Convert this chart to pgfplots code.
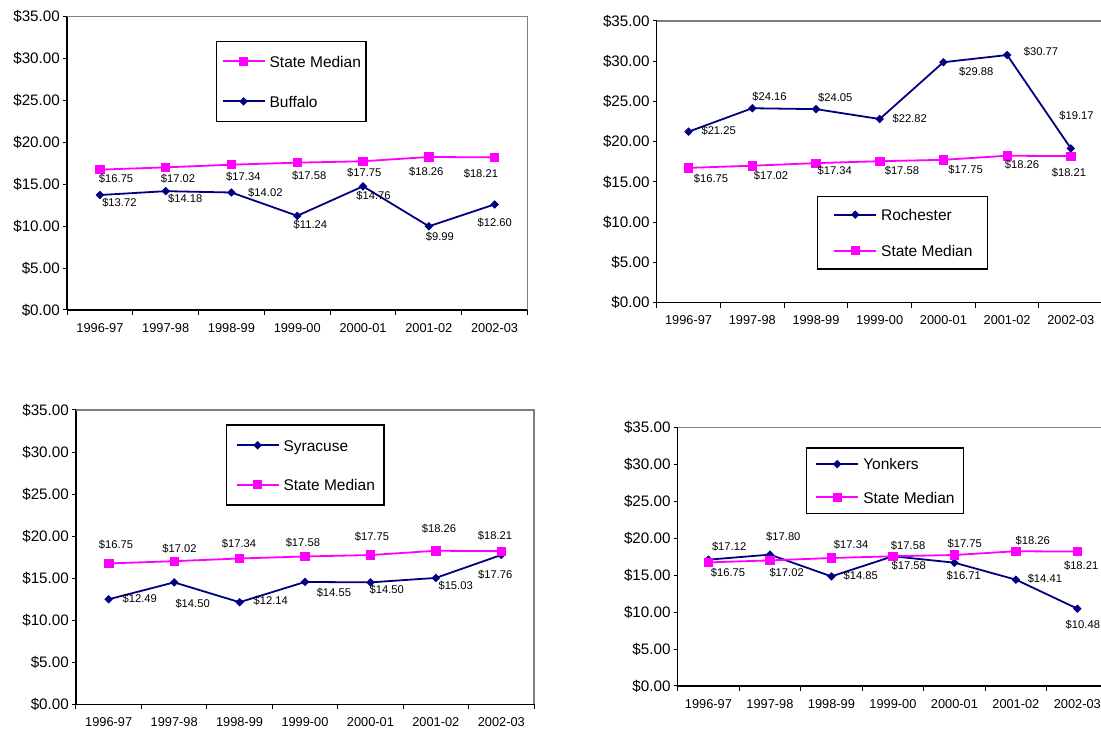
\documentclass[border=0pt]{standalone}
\usepackage{pgfplots}
\pgfplotsset{compat=1.18}
\usepackage{pgfplotstable}
\usepackage{fontspec}
\setmainfont{Liberation Sans}
\definecolor{navy}{RGB}{0,0,128}
\definecolor{mag}{RGB}{255,0,255}
\definecolor{framegray}{RGB}{128,128,128}
\newcommand\lblfont{\fontsize{11.2}{13}\selectfont}

% x y dx dy (label offsets in pt, y up)
\pgfplotstableread{
x y dx dy
0 16.75 16.2 -8.7
1 17.02 12.3 -10.9
2 17.34 11.9 -12.0
3 17.58 11.9 -13.0
4 17.75 1.2 -11.4
5 18.26 -2.6 -14.7
6 18.21 -13.7 -16.6
}\smA
\pgfplotstableread{
x y dx dy
0 13.72 19.5 -7.7
1 14.18 19.5 -7.8
2 14.02 33.9 -0.2
3 11.24 13.2 -9.2
4 14.76 10.5 -9.7
5 9.99 11.0 -10.7
6 12.60 0.1 -18.3
}\buf
\pgfplotstableread{
x y dx dy
0 21.25 30.1 1.0
1 24.16 17.2 11.6
2 24.05 19.3 11.5
3 22.82 30.1 0.3
4 29.88 32.9 -9.3
5 30.77 33.9 2.9
6 19.17 5.7 32.7
}\roc
\pgfplotstableread{
x y dx dy
0 16.75 22.5 -11.3
1 17.02 18.7 -10.1
2 17.34 18.7 -7.7
3 17.58 22.2 -9.6
4 17.75 22.2 -10.0
5 18.26 14.9 -9.1
6 18.21 -1.9 -16.4
}\smB
\pgfplotstableread{
x y dx dy
0 12.49 31.1 1.0
1 14.50 18.5 -20.9
2 12.14 31.2 1.2
3 14.55 28.9 -11.0
4 14.50 16.3 -7.6
5 15.03 19.8 -8.1
6 17.76 -6.0 -20.0
}\syr
\pgfplotstableread{
x y dx dy
0 16.75 7.3 18.4
1 17.02 5.3 12.9
2 17.34 -0.5 14.5
3 17.58 -2.1 14.2
4 17.75 1.5 18.0
5 18.26 3.2 21.7
6 18.21 -6.3 15.2
}\smC
\pgfplotstableread{
x y dx dy
0 17.12 20.7 12.7
1 17.80 13.4 17.6
2 14.85 29.3 1.0
3 17.58 15.9 -9.1
4 16.71 9.3 -13.3
5 14.41 29.0 1.3
6 10.48 5.5 -15.7
}\yon
\pgfplotstableread{
x y dx dy
0 16.75 19.5 -10.3
1 17.02 16.7 -12.3
2 17.34 19.7 13.6
3 17.58 15.2 10.3
4 17.75 10.3 11.6
5 18.26 16.9 10.2
6 18.21 3.8 -14.1
}\smD

\pgfplotsset{
  lbl/.style={
    visualization depends on={\thisrow{dx}\as\mydx},
    visualization depends on={\thisrow{dy}\as\mydy},
    point meta=y,
    nodes near coords={\$\pgfmathprintnumber[fixed,fixed zerofill,precision=2,assume math mode=true]{\pgfplotspointmeta}},
    nodes near coords style={anchor=center, inner sep=0pt, xshift=\mydx pt, yshift=\mydy pt, font=\lblfont, text=black},
  },
  city/.style={color=navy, line width=1.8pt, mark=square*, mark size=2.6pt, mark options={rotate=45, solid, fill=navy, line width=0.8pt}, lbl},
  sm/.style={color=mag, line width=1.8pt, mark=square*, mark size=4.2pt, mark options={solid, fill=mag, line width=0.8pt}, lbl},
  base/.style={
    scale only axis, anchor=south west, clip=false,
    xmin=-0.5, xmax=6.5, ymin=0, ymax=35,
    xtick={0,...,6},
    xticklabels={1996-97,1997-98,1998-99,1999-00,2000-01,2001-02,2002-03},
    minor xtick={-0.5,0.5,...,6.5},
    ytick={0,5,...,35},
    axis x line*=bottom, axis y line*=left,
    axis line style={black, line width=1.3pt, -},
    tick align=outside,
    major tick length=4pt, minor tick length=5pt,
    tick style={black, line width=1pt},
    major x tick style={draw=none},
    yticklabel={\$\pgfmathprintnumber[fixed,fixed zerofill,precision=2,assume math mode=true]{\tick}},
    yticklabel style={font=\fontsize{15.2}{18}\selectfont, inner sep=0pt, anchor=east, xshift=-3pt},
    xticklabel style={font=\fontsize{12.8}{15}\selectfont, inner sep=0pt, anchor=north, yshift=-9pt},
    legend cell align=left,
    legend image code/.code={%
      \draw[#1, mark=none, line width=2pt] (0pt,0pt) -- (42pt,0pt);
      \path[#1] plot coordinates {(21pt,0pt)};},
    legend style={anchor=north west, draw=black, line width=1.2pt, fill=white,
      column sep=4pt, font=\fontsize{15.5}{18}\selectfont,
      nodes={inner sep=0pt, text height=11.5pt, text depth=0pt}},
  },
}

\begin{document}
\begin{tikzpicture}
\path[use as bounding box] (0,0) rectangle (1101pt,731pt);

\begin{axis}[base, at={(67pt,421pt)}, width=460.5pt, height=293.3pt,
  legend style={at={(axis description cs:0.3236,0.917)}, inner xsep=5pt, inner ysep=14pt, row sep=28.5pt}]
\addplot[sm] table {\smA};
\addplot[city] table {\buf};
\legend{State Median, Buffalo}
\draw[framegray, line width=1.3pt] (rel axis cs:0,1) -- (rel axis cs:1,1) -- (rel axis cs:1,0);
\end{axis}

\begin{axis}[base, at={(656.7pt,428.3pt)}, width=446pt, height=281.7pt,
  legend style={at={(axis description cs:0.36,0.380)}, inner xsep=15.3pt, inner ysep=12.6pt, row sep=24.5pt}]
\addplot[city] table {\roc};
\addplot[sm] table {\smB};
\legend{Rochester, State Median}
\draw[framegray, line width=1.3pt] (rel axis cs:0,1) -- (rel axis cs:1,1) -- (rel axis cs:1,0);
\end{axis}

\begin{axis}[base, at={(76pt,26.7pt)}, width=458pt, height=294.3pt,
  legend style={at={(axis description cs:0.3275,0.951)}, inner xsep=9pt, inner ysep=14.5pt, row sep=27.9pt}]
\addplot[city] table {\syr};
\addplot[sm] table {\smC};
\legend{Syracuse, State Median}
\draw[framegray, line width=1.3pt] (rel axis cs:0,1) -- (rel axis cs:1,1) -- (rel axis cs:1,0);
\end{axis}

\begin{axis}[base, at={(677.7pt,45pt)}, width=430.4pt, height=258.3pt,
  legend style={at={(axis description cs:0.298,0.924)}, inner xsep=8.7pt, inner ysep=10.5pt, row sep=21.8pt}]
\addplot[city] table {\yon};
\addplot[sm] table {\smD};
\legend{Yonkers, State Median}
\draw[framegray, line width=1.3pt] (rel axis cs:0,1) -- (rel axis cs:1,1) -- (rel axis cs:1,0);
\end{axis}

\end{tikzpicture}
\end{document}
